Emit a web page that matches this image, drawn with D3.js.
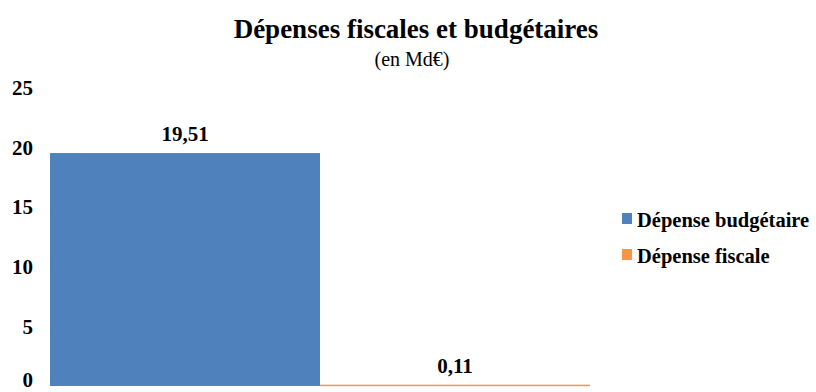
<!DOCTYPE html>
<html>
<head>
<meta charset="utf-8">
<script src="https://cdn.jsdelivr.net/npm/d3@7"></script>
<style>
  body { margin: 0; background: #fff; }
  svg text { font-family: "Liberation Serif", "Times New Roman", serif; }
</style>
</head>
<body>
<svg id="chart" width="816" height="392"></svg>
<script>
// data
var series = ['Dépense budgétaire', 'Dépense fiscale'];
var values = [19.51, 0.11];
var labels = ['19,51', '0,11'];
var colors = ['#4F81BD', '#F79646'];
var yTicks = [0, 5, 10, 15, 20, 25];

var svg = d3.select('#chart');
var serif = '"Liberation Serif", "Times New Roman", serif';

var x = d3.scaleBand()
  .domain(series)
  .range([50, 590])
  .padding(0);

var y = d3.scaleLinear()
  .domain([0, 25])
  .range([386, 87.5]);

// title
svg.append('text')
  .attr('x', 416).attr('y', 38)
  .attr('text-anchor', 'middle')
  .attr('font-family', serif)
  .attr('font-size', '27px')
  .attr('font-weight', 'bold')
  .text('Dépenses fiscales et budgétaires');

svg.append('text')
  .attr('x', 412).attr('y', 66)
  .attr('text-anchor', 'middle')
  .attr('font-family', serif)
  .attr('font-size', '20px')
  .text('(en Md€)');

// y axis, labels only
var yAxis = d3.axisLeft(y)
  .tickValues(yTicks)
  .tickSize(0)
  .tickPadding(0)
  .tickFormat(d3.format('d'));

var gy = svg.append('g')
  .attr('transform', 'translate(33,0)')
  .attr('font-family', serif)
  .call(yAxis);
gy.select('.domain').remove();
gy.selectAll('text')
  .attr('font-family', serif)
  .attr('font-size', '21px')
  .attr('font-weight', 'bold')
  .attr('fill', '#000')
  .attr('dy', function(d){ return d === 0 ? '0.02em' : '0.33em'; });

// bars
svg.selectAll('rect.bar')
  .data(values)
  .enter()
  .append('rect')
  .attr('class', 'bar')
  .attr('x', function(d, i){ return x(series[i]); })
  .attr('y', function(d){ return y(d); })
  .attr('width', x.bandwidth())
  .attr('height', function(d){ return Math.max(y(0) - y(d), 1.5); })
  .attr('fill', function(d, i){ return colors[i]; });

// value labels
svg.selectAll('text.val')
  .data(values)
  .enter()
  .append('text')
  .attr('class', 'val')
  .attr('x', function(d, i){ return x(series[i]) + x.bandwidth() / 2; })
  .attr('y', function(d){ return y(d) - 12; })
  .attr('text-anchor', 'middle')
  .attr('font-family', serif)
  .attr('font-size', '21px')
  .attr('font-weight', 'bold')
  .text(function(d, i){ return labels[i]; });

// legend
var legend = svg.selectAll('g.legend')
  .data(series)
  .enter()
  .append('g')
  .attr('class', 'legend')
  .attr('transform', function(d, i){ return 'translate(622,' + (213 + i * 36) + ')'; });

legend.append('rect')
  .attr('width', 10).attr('height', 11)
  .attr('fill', function(d, i){ return colors[i]; });

legend.append('text')
  .attr('x', 15).attr('y', 14)
  .attr('font-family', serif)
  .attr('font-size', '20.5px')
  .attr('font-weight', 'bold')
  .text(function(d){ return d; });
</script>
</body>
</html>
